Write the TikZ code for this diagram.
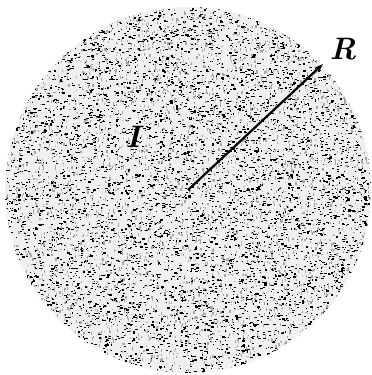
\documentclass[tikz,border=0pt]{standalone}
\usepackage{amsmath,amssymb}
\usetikzlibrary{arrows.meta,calc}
\tikzset{>={Stealth[length=9pt,width=6pt]},every node/.style={font=\fontsize{31}{31}\selectfont\bfseries\itshape},grain/.style={fill=black},fleck/.style={fill=gray!70},radius/.style={line width=2.2pt,->}}

\begin{document}
\begin{tikzpicture}[x=1pt,y=1pt]
\useasboundingbox (0,0) rectangle (372,375);
\coordinate (O) at (188,185);
\begin{scope}
\clip (O) circle(183);\fill[gray!12] (O) circle(183);
\pgfmathsetseed{17}
\foreach \k in {1,...,5200}{\pgfmathsetmacro\ang{rnd*360}\pgfmathsetmacro\rr{184*sqrt(rnd)}\pgfmathsetmacro\w{0.8+2.2*rnd}
\fill[grain] ($(O)+(\ang:\rr)$) rectangle ++(\w,1.2);}
\foreach \k in {1,...,3500}{\pgfmathsetmacro\ang{rnd*360}\pgfmathsetmacro\rr{184*sqrt(rnd)}\pgfmathsetmacro\w{0.8+2.2*rnd}
\fill[fleck] ($(O)+(\ang:\rr)$) rectangle ++(1.2,\w);}
\end{scope}
\coordinate (tip) at (323,311);
\draw[radius] (O)--(tip);
\node (lR) at (343,326){R};\node (lI) at (133,238){I};
\end{tikzpicture}
\end{document}
